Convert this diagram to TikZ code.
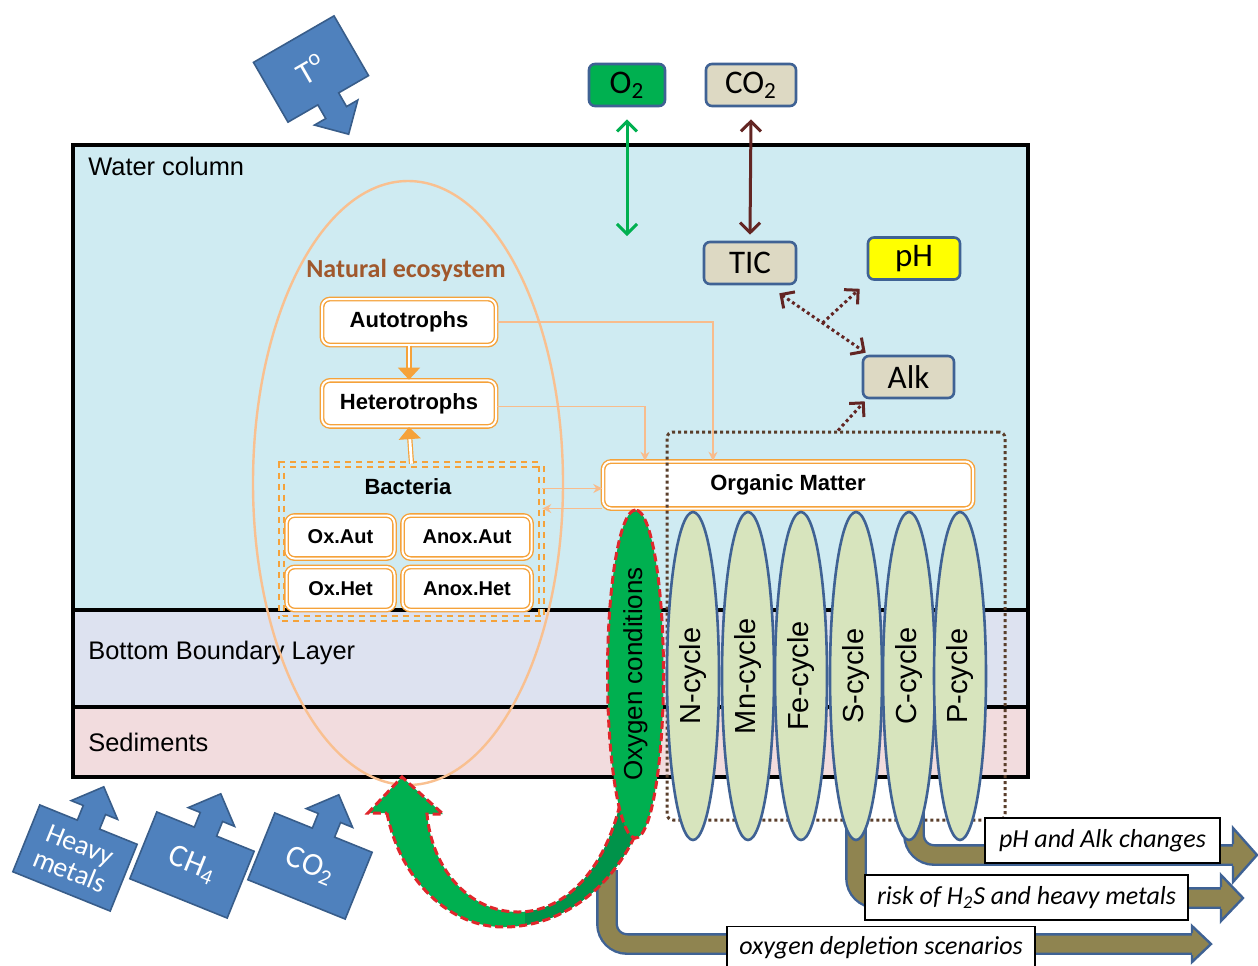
\documentclass[tikz,border=0pt]{standalone}
\usepackage{fontspec}
\setmainfont{Liberation Sans}
\newfontfamily\calfont{Carlito}
\usetikzlibrary{positioning,arrows.meta,calc,shapes.geometric,shapes.arrows}
\definecolor{waterBlue}{HTML}{CFEBF2}
\definecolor{bblLav}{HTML}{DDE2F0}
\definecolor{sedPink}{HTML}{F2DCDE}
\definecolor{ecoOrange}{HTML}{F9C090}
\definecolor{boxOrange}{HTML}{F5A23A}
\definecolor{linkOrange}{HTML}{F8BC8C}
\definecolor{natBrown}{HTML}{A0582C}
\definecolor{gasGreen}{HTML}{00B050}
\definecolor{darkGreen}{HTML}{00934A}
\definecolor{tanBox}{HTML}{DDD9C3}
\definecolor{phYellow}{HTML}{FFFF00}
\definecolor{edgeBlue}{HTML}{3F6294}
\definecolor{co2Brown}{HTML}{632523}
\definecolor{dotBrown}{HTML}{5A3E2B}
\definecolor{cycleFill}{HTML}{D7E4BD}
\definecolor{oliveArrow}{HTML}{8F8450}
\definecolor{blockBlue}{HTML}{4F81BD}
\definecolor{blockEdge}{HTML}{385D8A}
\definecolor{redDash}{HTML}{E0262B}

\begin{document}
\begin{tikzpicture}[
  x=0.5pt, y=-0.5pt,
  >={Straight Barb[length=5pt,width=10pt]},
  layerLine/.style={draw=black, line width=2pt},
  layerLabel/.style={anchor=west, inner sep=0pt, font=\fontsize{12.7}{15}\selectfont},
  ecoBox/.style={rectangle, rounded corners=4pt, draw=boxOrange, double=white,
                 double distance=1pt, line width=0.7pt, fill=white, align=center,
                 inner sep=1pt, font=\bfseries\fontsize{11}{13}\selectfont},
  bactBox/.style={ecoBox, minimum height=21.5pt, font=\bfseries\fontsize{10}{12}\selectfont},
  ecoArrow/.style={draw=boxOrange, double=white, double distance=1.4pt, line width=0.6pt,
                   -{Triangle[length=6pt,width=11pt]}},
  link/.style={draw=linkOrange, line width=0.9pt, -{Stealth[length=4.5pt,width=4.5pt]}},
  gasBox/.style={rectangle, rounded corners=3pt, draw=edgeBlue, line width=1.3pt,
                 fill=tanBox, minimum height=21pt, inner sep=0pt,
                 font=\calfont\fontsize{16.5}{18}\selectfont},
  gasLink/.style={<->, line width=1.5pt},
  dotLink/.style={draw=co2Brown, line width=1.5pt, dash pattern=on 1.5pt off 1.5pt},
  cycleOval/.style={ellipse, draw=edgeBlue, fill=cycleFill, line width=1.3pt, rotate=90,
                    minimum width=164pt, minimum height=26pt, inner sep=0pt,
                    font=\fontsize{14.5}{16}\selectfont},
  oxOval/.style={ellipse, fill=gasGreen, bandEdge, rotate=90,
                 minimum width=164pt, minimum height=28pt, inner sep=0pt,
                 font=\fontsize{13}{15}\selectfont},
  blockArrow/.style={arrow box, draw=blockEdge, fill=blockBlue, line width=0.8pt,
                     text=white, align=center, inner sep=0pt,
                     arrow box shaft width=12pt, arrow box head extend=6.5pt,
                     font=\calfont\fontsize{16}{16}\selectfont},
  outArrow/.style={draw=edgeBlue, line width=1.2pt, double=oliveArrow,
                   double distance=8.5pt, rounded corners=10pt},
  outHead/.style={fill=oliveArrow, draw=edgeBlue, line width=1.2pt},
  outLabel/.style={rectangle, draw=black, line width=0.6pt, fill=white, inner sep=0pt,
                   minimum height=22.5pt, font=\calfont\itshape\fontsize{13}{15}\selectfont},
  bandEdge/.style={draw=redDash, line width=1.5pt, dash pattern=on 4pt off 2pt}
]
\path[use as bounding box, fill=white] (0,0) rectangle (1258,965);

% ===== Layers: water column, BBL, sediments =====
\fill[waterBlue] (73,145) rectangle (1028,610);
\fill[bblLav] (73,610) rectangle (1028,707);
\fill[sedPink] (73,707) rectangle (1028,777);
\draw[layerLine] (73,610) -- (1028,610);
\draw[layerLine] (73,707) -- (1028,707);
\draw[layerLine] (73,145) rectangle (1028,777);
\node[layerLabel] (wcLab) at (88,166) {Water column};
\node[layerLabel] (bblLab) at (88,653) {Bottom Boundary Layer};
\node[layerLabel] (sedLab) at (88,742) {Sediments};

% ===== Natural ecosystem =====
\node[ellipse, draw=ecoOrange, line width=1.2pt, minimum width=155pt,
      minimum height=302pt, inner sep=0pt] (eco) at (408,483) {};
\node[text=natBrown, font=\calfont\bfseries\fontsize{13}{15}\selectfont]
  (ecoLab) at (406,270) {Natural ecosystem};

% ===== External drivers (block arrows) =====
\node[blockArrow, rotate=30, minimum width=46.5pt, minimum height=34.5pt,
      arrow box arrows={south:20pt}] (temp) at (311,69) {T\textsuperscript{o}};
\node[blockArrow, rotate=-22, minimum width=52.5pt, minimum height=36pt,
      arrow box arrows={north:20pt}, font=\calfont\fontsize{14}{14}\selectfont]
  (metals) at (75,858) {Heavy\\metals};
\node[blockArrow, rotate=-22, minimum width=52.5pt, minimum height=36pt,
      arrow box arrows={north:20pt}] (ch4) at (192,865) {CH\textsubscript{4}};
\node[blockArrow, rotate=-22, minimum width=52.5pt, minimum height=36pt,
      arrow box arrows={north:20pt}] (co2Flux) at (310,866) {CO\textsubscript{2}};

% ===== Gas exchange and carbonate system =====
\node[gasBox, fill=gasGreen, minimum width=38pt] (o2) at (627,85) {O\textsubscript{2}};
\node[gasBox, minimum width=45pt] (co2) at (751,85) {CO\textsubscript{2}};
\node[gasBox, minimum width=46pt] (tic) at (750,263) {TIC};
\node[gasBox, fill=phYellow, minimum width=46pt] (ph) at (914,258.5) {pH};
\node[gasBox, minimum width=45.5pt] (alk) at (908.5,377) {Alk};

\coordinate (o2Sink) at (627,236);
\draw[gasLink, draw=gasGreen] ([yshift=-6pt]o2.south) -- (o2Sink);
\draw[gasLink, draw=co2Brown] ([yshift=-6pt]co2.south) -- ([yshift=3pt]tic.north);

\coordinate (ticFoot) at ([xshift=-9pt,yshift=-4pt]tic.south east);
\coordinate (alkTop) at ([xshift=2pt,yshift=1pt]alk.north west);
\draw[dotLink, <->] (ticFoot) -- (alkTop);
\draw[dotLink, ->] ($(ticFoot)!0.5!(alkTop)$) -- ([xshift=-3.5pt,yshift=-4pt]ph.south west);

% ===== Trophic boxes =====
\node[ecoBox, minimum width=87pt, minimum height=23pt] (auto) at (409,322) {Autotrophs};
\node[ecoBox, minimum width=87pt, minimum height=23pt, below=17pt of auto] (hetero) {Heterotrophs};

\node[draw=boxOrange, double=waterBlue, double distance=1.5pt, line width=0.8pt,
      dash pattern=on 3pt off 2.5pt, minimum width=130pt, minimum height=77pt,
      inner sep=0pt] (bact) at (411.5,541.5) {};
\node[font=\bfseries\fontsize{11}{13}\selectfont] (bactLab) at (408,487) {Bacteria};
\node[bactBox, minimum width=54pt] (oxAut) at (340.5,537) {Ox.Aut};
\node[bactBox, minimum width=64.5pt] (anoxAut) at (467,537) {Anox.Aut};
\node[bactBox, minimum width=54pt] (oxHet) at (340.5,588.5) {Ox.Het};
\node[bactBox, minimum width=64.5pt] (anoxHet) at (467,588.5) {Anox.Het};

\draw[ecoArrow] (auto.south) -- (hetero.north);
\draw[ecoArrow] (bact.north) -- (hetero.south);

% ===== Organic matter and links =====
\node[ecoBox, minimum width=185pt, minimum height=23.5pt] (om) at (788,485) {Organic Matter};
\draw[link] (auto.east) -| ([xshift=-37.5pt]om.north);
\draw[link] ([yshift=-1.5pt]hetero.east) -| ([xshift=-71.5pt]om.north);
\coordinate (bactOut) at ([yshift=26.5pt]bact.east);
\coordinate (bactIn) at ([yshift=16.5pt]bact.east);
\draw[link] (bactOut) -- (bactOut -| om.west);
\draw[link] (bactIn -| om.west) -- (bactIn);

% ===== Biogeochemical cycles frame =====
\node[draw=dotBrown, line width=1.5pt, dash pattern=on 1.5pt off 1.5pt,
      rounded corners=3pt, minimum width=169pt, minimum height=194pt,
      inner sep=0pt] (cycleFrame) at (836,626) {};
\draw[dotLink, ->] ([xshift=1pt]cycleFrame.north) -- ([xshift=1.5pt,yshift=-1pt]alk.south west);

% ===== Outputs (drawn below the ovals) =====
\coordinate (phTail) at (1233,855);
\coordinate (h2sTail) at (1221,898);
\coordinate (oxStart) at (607,870);
\coordinate (oxTail) at (1192,944);
\draw[outArrow] (914,676) |- (phTail);
\draw[outArrow] (856,676) |- (h2sTail);
\draw[outArrow] (oxStart) |- (oxTail);
\path[outHead] (1233,844) -- (1233,828) -- (1257,855) -- (1233,882) -- (1233,866);
\path[outHead] (1221,887) -- (1221,875) -- (1243,898) -- (1221,921) -- (1221,909);
\path[outHead] (1192,933) -- (1192,926) -- (1211,944) -- (1192,962) -- (1192,955);

\foreach \cx/\el [count=\i] in {693/N,748/Mn,801/Fe,856/S,909/C,960/P}
  \node[cycleOval] (cyc\i) at (\cx,676) {\el-cycle};

% ===== Oxygen feedback to the ecosystem =====
\def\bandPath{(387,813) .. controls (400,880) and (450,928) .. (505,927)
  .. controls (575,926) and (630,870) .. (648,800) -- (622,795)
  .. controls (608,865) and (568,912) .. (518,912)
  .. controls (470,912) and (432,870) .. (427,814)
  -- (443,814) -- (402,777) -- (368,813) -- cycle}
\fill[gasGreen] \bandPath;
\begin{scope}
  \clip \bandPath;
  \fill[darkGreen] (525,760) rectangle (700,960);
\end{scope}
\draw[bandEdge] \bandPath;
\node[oxOval] (oxy) at (635.5,674) {Oxygen conditions};

% ===== Output labels =====
\node[outLabel, minimum width=117.5pt] (phLab) at (1102.5,840.5) {pH and Alk changes};
\node[outLabel, minimum width=161.5pt] (h2sLab) at (1026.5,897.5) {risk of H\textsubscript{2}S and heavy metals};
\node[outLabel, minimum width=154pt, minimum height=21pt] (oxLab) at (881,947.5) {oxygen depletion scenarios};

\end{tikzpicture}
\end{document}
